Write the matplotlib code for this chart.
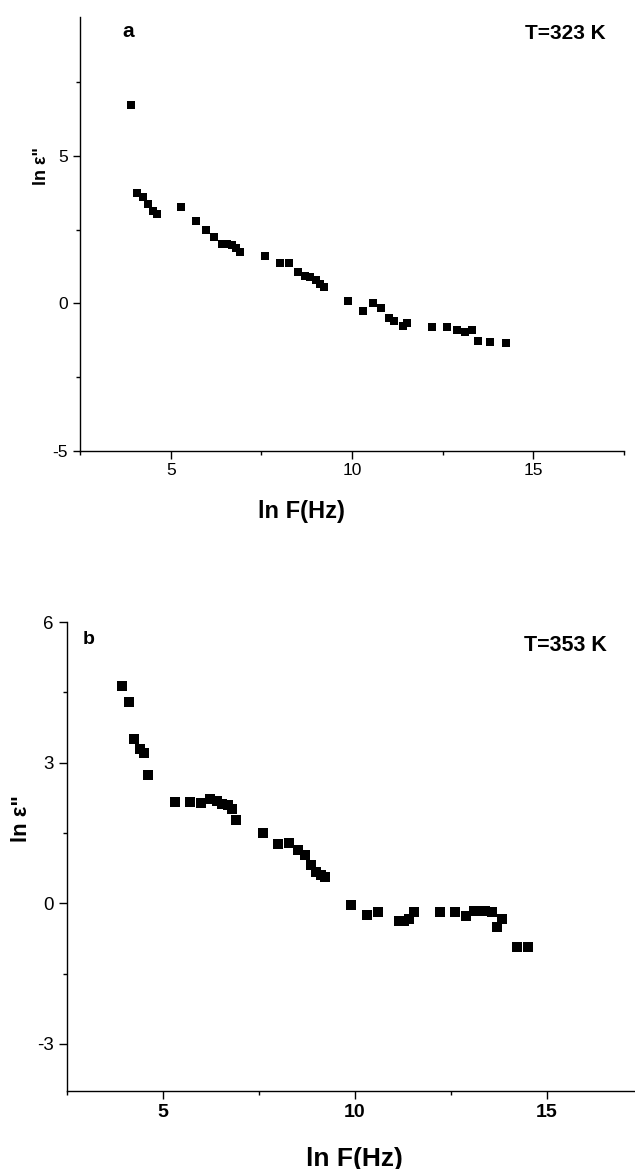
import matplotlib
matplotlib.use("Agg")
import matplotlib.pyplot as plt
from matplotlib.ticker import MultipleLocator

plt.rcParams['font.family'] = ['Liberation Sans', 'DejaVu Sans']
plt.rcParams['axes.unicode_minus'] = False

# panel a, T = 323 K
lnf_a = [3.89, 4.08, 4.24, 4.37, 4.50, 4.61, 5.29, 5.70, 5.97, 6.19,
         6.41, 6.56, 6.69, 6.80, 6.90, 7.59, 8.00, 8.27, 8.50, 8.70,
         8.85, 9.00, 9.13, 9.22, 9.89, 10.31, 10.59, 10.81, 11.02, 11.17,
         11.41, 11.52, 12.22, 12.61, 12.89, 13.11, 13.30, 13.48, 13.82, 14.24]
lneps_a = [6.72, 3.73, 3.60, 3.35, 3.14, 3.03, 3.27, 2.78, 2.49, 2.24,
           2.01, 2.00, 1.98, 1.87, 1.73, 1.61, 1.35, 1.35, 1.07, 0.93,
           0.90, 0.79, 0.65, 0.56, 0.09, -0.27, 0.00, -0.17, -0.51, -0.59,
           -0.77, -0.68, -0.79, -0.79, -0.91, -0.99, -0.91, -1.27, -1.30, -1.36]

# panel b, T = 353 K
lnf_b = [3.93, 4.11, 4.25, 4.40, 4.51, 4.62, 5.31, 5.72, 6.00, 6.23,
         6.40, 6.55, 6.71, 6.81, 6.92, 7.60, 8.01, 8.29, 8.52, 8.70,
         8.85, 8.99, 9.11, 9.22, 9.90, 10.32, 10.60, 11.15, 11.29, 11.41,
         11.53, 12.21, 12.60, 12.90, 13.11, 13.26, 13.40, 13.57, 13.71, 13.82,
         14.23, 14.51]
lneps_b = [4.63, 4.30, 3.51, 3.29, 3.21, 2.73, 2.17, 2.16, 2.15, 2.23,
           2.18, 2.11, 2.10, 2.01, 1.78, 1.49, 1.26, 1.29, 1.14, 1.02,
           0.82, 0.67, 0.60, 0.56, -0.04, -0.26, -0.19, -0.37, -0.37, -0.33,
           -0.19, -0.19, -0.19, -0.27, -0.16, -0.16, -0.17, -0.18, -0.51, -0.34,
           -0.93, -0.93]

fig = plt.figure(figsize=(6.35, 11.69), dpi=100)

# ---- panel a ----
ax1 = fig.add_axes([0.1263, 0.6145, 0.856, 0.3707])
ax1.plot(lnf_a, lneps_a, 's', color='black', markersize=5.8, markeredgewidth=0)
ax1.set_xlim(2.5, 17.5)
ax1.set_ylim(-5, 9.7)
ax1.xaxis.set_major_locator(MultipleLocator(5))
ax1.xaxis.set_minor_locator(MultipleLocator(2.5))
ax1.yaxis.set_major_locator(MultipleLocator(5))
ax1.yaxis.set_minor_locator(MultipleLocator(2.5))
ax1.tick_params(which='major', length=5.4, width=1, labelsize=12.5, direction='out')
ax1.tick_params(which='minor', length=2.8, width=1, direction='out')
ax1.set_xlabel('ln F(Hz)', fontsize=17, fontweight='bold', va='top')
ax1.xaxis.set_label_coords(0.407, -0.115)
ax1.set_ylabel('ln ε"', fontsize=13, fontweight='bold')
ax1.yaxis.set_label_coords(-0.056, 0.657)
ax1.text(0.077, 0.968, 'a', transform=ax1.transAxes, fontsize=15,
         fontweight='bold', ha='left', va='center')
ax1.text(0.9675, 0.962, 'T=323 K', transform=ax1.transAxes, fontsize=15,
         fontweight='bold', ha='right', va='center')

# ---- panel b ----
ax2 = fig.add_axes([0.105, 0.0669, 0.9076, 0.401])
ax2.plot(lnf_b, lneps_b, 's', color='black', markersize=6.8, markeredgewidth=0)
ax2.set_xlim(2.5, 17.5)
ax2.set_ylim(-4, 6)
ax2.xaxis.set_major_locator(MultipleLocator(5))
ax2.xaxis.set_minor_locator(MultipleLocator(2.5))
ax2.yaxis.set_major_locator(MultipleLocator(3))
ax2.yaxis.set_minor_locator(MultipleLocator(1.5))
ax2.tick_params(which='major', length=6, width=1, labelsize=13.5, direction='out')
ax2.tick_params(which='minor', length=3, width=1, direction='out')
for lab in ax2.get_xticklabels():
    lab.set_fontweight('bold')
    lab.set_fontsize(14)
ax2.set_xlabel('ln F(Hz)', fontsize=19, fontweight='bold', va='top')
ax2.xaxis.set_label_coords(0.5, -0.12)
ax2.set_ylabel('ln ε"', fontsize=16, fontweight='bold')
ax2.yaxis.set_label_coords(-0.06, 0.58)
ax2.text(0.028, 0.962, 'b', transform=ax2.transAxes, fontsize=14,
         fontweight='bold', ha='left', va='center')
ax2.text(0.938, 0.95, 'T=353 K', transform=ax2.transAxes, fontsize=15.5,
         fontweight='bold', ha='right', va='center')

for ax in (ax1, ax2):
    ax.spines['top'].set_visible(False)
    ax.spines['right'].set_visible(False)
    ax.spines['left'].set_linewidth(1)
    ax.spines['bottom'].set_linewidth(1)

fig.savefig('out.png', dpi=100)
